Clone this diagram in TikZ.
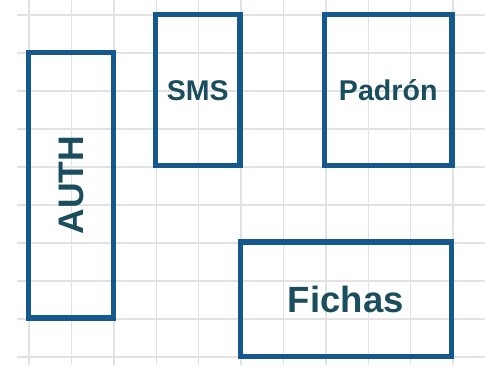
\documentclass[tikz,border=0pt]{standalone}
\usepackage{fontspec}
\setmainfont{Liberation Sans}
\definecolor{boxblue}{HTML}{14588C}
\definecolor{txtteal}{HTML}{1A4E5E}
\definecolor{gridgray}{HTML}{E2E2E2}
\tikzset{
  gridline/.style={draw=gridgray, line width=1.4pt},
  modbox/.style={draw=boxblue, line width=5.5pt, rectangle, inner sep=0pt,
    text=txtteal, font=\bfseries\fontsize{#1}{#1}\selectfont, text height={0.716*#1 pt}, text depth=0pt, align=center},
}
\begin{document}
\begin{tikzpicture}[x=1pt,y=-1pt]
\useasboundingbox (0,0) rectangle (485,365);
\fill[white] (0,0) rectangle (485,365);
\foreach \i in {0,...,10} {
  \draw[gridline] ({29+42.4*\i},0) -- ({29+42.4*\i},365);
}
\foreach \j in {0,...,9} {
  \draw[gridline] (17,{15+38*\j}) -- (485,{15+38*\j});
}
\node[modbox=35.5, minimum width=265.5pt, minimum height=85pt, rotate=90] (auth) at (71,185) {AUTH};
\node[modbox=28.5, minimum width=84.5pt, minimum height=151pt] (sms) at (197.75,90) {SMS};
\node[modbox=28.6, minimum width=127.5pt, minimum height=151pt] (padron) at (388.25,90) {Padrón};
\node[modbox=36.5, minimum width=211pt, minimum height=114.7pt] (fichas) at (345.8,299.3) {Fichas};
\end{tikzpicture}
\end{document}
